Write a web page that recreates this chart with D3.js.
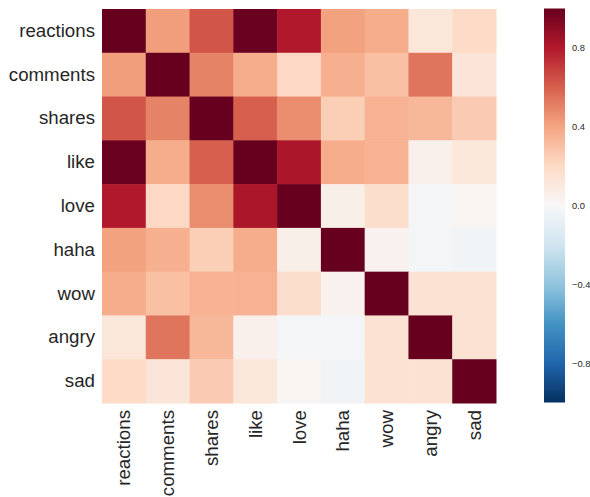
<!DOCTYPE html>
<html><head><meta charset="utf-8">
<script src="https://cdn.jsdelivr.net/npm/d3@7"></script>
<style>body{margin:0;background:#fff}svg{display:block}</style>
</head><body>
<script>
const categories = ["reactions","comments","shares","like","love","haha","wow","angry","sad"];
const corr = [
  [1.00, 0.42, 0.63, 0.99, 0.80, 0.41, 0.37, 0.12, 0.20],
  [0.42, 1.00, 0.50, 0.37, 0.21, 0.36, 0.30, 0.54, 0.13],
  [0.63, 0.50, 1.00, 0.60, 0.47, 0.25, 0.35, 0.33, 0.26],
  [0.99, 0.37, 0.60, 1.00, 0.82, 0.37, 0.35, 0.05, 0.12],
  [0.80, 0.21, 0.47, 0.82, 1.00, 0.06, 0.18, -0.02, 0.02],
  [0.41, 0.36, 0.25, 0.37, 0.06, 1.00, 0.04, -0.02, -0.03],
  [0.37, 0.30, 0.35, 0.35, 0.18, 0.04, 1.00, 0.15, 0.15],
  [0.12, 0.54, 0.33, 0.05, -0.02, -0.02, 0.15, 1.00, 0.15],
  [0.20, 0.13, 0.26, 0.12, 0.02, -0.03, 0.15, 0.15, 1.00]
];
const colorbarTicks = [0.8, 0.4, 0.0, -0.4, -0.8];

const W = 590, H = 497;
const svg = d3.select("body").append("svg").attr("width", W).attr("height", H);

// matplotlib RdBu_r style: linear interpolation over ColorBrewer anchors
const rdbu = ["#67001f","#b2182b","#d6604d","#f4a582","#fddbc7","#f7f7f7","#d1e5f0","#92c5de","#4393c3","#2166ac","#053061"];
const color = d3.scaleLinear()
  .domain(d3.range(11).map(i => 1 - i * 0.2))
  .range(rdbu)
  .interpolate(d3.interpolateRgb)
  .clamp(true);

const x0 = 102, y0 = 9, size = 394;
const x = d3.scaleBand().domain(categories).range([x0, x0 + size]);
const y = d3.scaleBand().domain(categories).range([y0, y0 + size]);

const cells = [];
corr.forEach((row, i) => row.forEach((v, j) => cells.push({r: categories[i], c: categories[j], v})));
svg.append("g").selectAll("rect").data(cells).join("rect")
  .attr("x", d => x(d.c)).attr("y", d => y(d.r))
  .attr("width", x.bandwidth() + 0.5).attr("height", y.bandwidth() + 0.5)
  .attr("fill", d => color(d.v));

const font = "'Liberation Sans', Arial, sans-serif";
// y labels
const yAxis = svg.append("g").attr("transform", `translate(${x0},0)`)
  .call(d3.axisLeft(y).tickSize(0).tickPadding(7));
yAxis.select(".domain").remove();
yAxis.selectAll("text").attr("font-family", font).attr("font-size", "18.7px").attr("fill", "#262626");

// x labels
const xAxis = svg.append("g").attr("transform", `translate(0,${y0 + size})`)
  .call(d3.axisBottom(x).tickSize(0).tickPadding(7));
xAxis.select(".domain").remove();
xAxis.selectAll("text").attr("font-family", font).attr("font-size", "18.7px").attr("fill", "#262626")
  .attr("transform", "rotate(-90)").attr("text-anchor", "end")
  .attr("x", -7).attr("y", 0).attr("dy", "0.35em");

// colorbar
const cbX = 544, cbW = 21, cbY0 = 8.5, cbY1 = 402.5;
const cbScale = d3.scaleLinear().domain([1, -1]).range([cbY0, cbY1]);
const defs = svg.append("defs");
const grad = defs.append("linearGradient").attr("id", "cb").attr("x1", 0).attr("y1", 0).attr("x2", 0).attr("y2", 1);
d3.range(0, 1.0001, 0.05).forEach(t => {
  grad.append("stop").attr("offset", t).attr("stop-color", color(1 - 2 * t));
});
svg.append("rect").attr("x", cbX).attr("y", cbY0).attr("width", cbW).attr("height", cbY1 - cbY0).attr("fill", "url(#cb)");
const cbAxis = svg.append("g").attr("transform", `translate(${cbX + cbW},0)`)
  .call(d3.axisRight(cbScale).tickValues(colorbarTicks).tickSize(0).tickPadding(7)
    .tickFormat(d => (d < 0 ? "\u2212" : "") + Math.abs(d).toFixed(1)));
cbAxis.select(".domain").remove();
cbAxis.selectAll("text").attr("font-family", font).attr("font-size", "9.3px").attr("fill", "#262626");
</script>
</body></html>
